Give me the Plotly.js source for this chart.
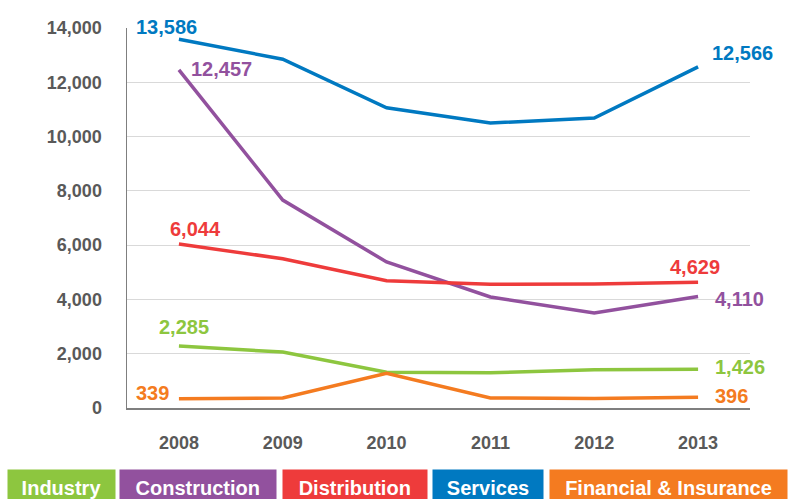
<!DOCTYPE html>
<html>
<head>
<meta charset="utf-8">
<script src="https://cdn.plot.ly/plotly-3.0.1.min.js"></script>
<style>html,body{margin:0;padding:0;background:#fff}#chart{width:789px;height:499px}</style>
</head>
<body>
<div id="chart"></div>
<script>
const years = ['2008', '2009', '2010', '2011', '2012', '2013'];
const industry = [2285, 2060, 1320, 1300, 1410, 1426];
const construction = [12457, 7660, 5380, 4090, 3500, 4110];
const distribution = [6044, 5500, 4690, 4560, 4570, 4629];
const services = [13586, 12850, 11060, 10500, 10680, 12566];
const financial = [339, 370, 1280, 370, 350, 396];
const seriesNames = ['Industry', 'Construction', 'Distribution', 'Services', 'Financial & Insurance'];
const yTicks = [0, 2000, 4000, 6000, 8000, 10000, 12000, 14000];

const colors = ['#8DC63F', '#92519E', '#EE3B3B', '#0079C1', '#F47B20'];
const allSeries = [industry, construction, distribution, services, financial];

// label offsets (pixels) for first and last points
const firstShift = [[5, 19], [43, 1], [17, 15], [-12, 12], [-26, 6]];
const lastShift = [[42, 2], [41, -3], [-3, 15], [44, 14], [33, 1]];

const traces = allSeries.map((vals, i) => ({
  type: 'scatter', mode: 'lines', x: years, y: vals, name: seriesNames[i],
  line: {color: colors[i], width: 3.5}, hoverinfo: 'skip'
}));

const fmt = v => v.toLocaleString('en-US');
const labelFont = c => ({family: 'Liberation Sans, Arial, sans-serif', size: 20, color: c, weight: 'bold'});
const annotations = [];
allSeries.forEach((vals, i) => {
  const last = vals.length - 1;
  annotations.push({xref: 'x', yref: 'y', x: 0, y: vals[0], text: fmt(vals[0]), showarrow: false,
    xanchor: 'center', yanchor: 'middle',
    xshift: firstShift[i][0], yshift: firstShift[i][1], font: labelFont(colors[i])});
  annotations.push({xref: 'x', yref: 'y', x: last, y: vals[last], text: fmt(vals[last]), showarrow: false,
    xanchor: 'center', yanchor: 'middle',
    xshift: lastShift[i][0], yshift: lastShift[i][1], font: labelFont(colors[i])});
});

// legend boxes (pixel positions converted to paper coords)
const L = 127, R = 750, T = 28, B = 408;
const px = p => (p - L) / (R - L);
const py = p => (B - p) / (B - T);
const boxes = [[7.5, 114.5], [120.5, 276], [283, 426.5], [433, 543], [550, 787]];
seriesNames.forEach((n, i) => {
  const [a, b] = boxes[i];
  annotations.push({xref: 'paper', yref: 'paper', x: px((a + b) / 2), y: py(488), xanchor: 'center', yanchor: 'middle',
    text: n, showarrow: false, bgcolor: colors[i], width: b - a, height: 36, borderpad: 0, align: 'center', valign: 'middle',
    font: {family: 'Liberation Sans, Arial, sans-serif', size: 20, color: '#ffffff', weight: 'bold'}});
});

const layout = {
  width: 789, height: 499,
  margin: {l: L, r: 789 - R, t: T, b: 499 - B},
  paper_bgcolor: '#ffffff', plot_bgcolor: '#ffffff',
  showlegend: false,
  xaxis: {type: 'category', range: [-0.5, 5.5], showgrid: false, showline: true, linecolor: '#7f7f7f', linewidth: 1.5,
    ticks: '', ticklabelstandoff: 18, tickfont: {family: 'Liberation Sans, Arial, sans-serif', size: 18, color: '#595959', weight: 'bold'},
    fixedrange: true, zeroline: false},
  yaxis: {range: [0, 14000], tickvals: yTicks, ticktext: yTicks.map(fmt), showgrid: true, gridcolor: '#d9d9d9', gridwidth: 1.2,
    showline: true, linecolor: '#7f7f7f', linewidth: 1.5, zeroline: false, ticks: '', ticklabelstandoff: 20,
    tickfont: {family: 'Liberation Sans, Arial, sans-serif', size: 18, color: '#595959', weight: 'bold'}, fixedrange: true},
  annotations: annotations
};

Plotly.newPlot('chart', traces, layout, {displayModeBar: false, staticPlot: true});
</script>
</body>
</html>
